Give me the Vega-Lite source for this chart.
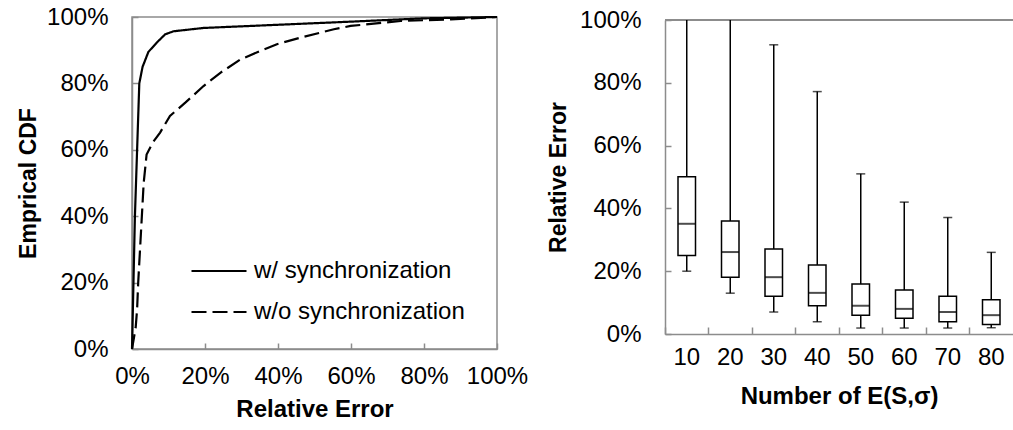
{
  "$schema": "https://vega.github.io/schema/vega-lite/v6.json",
  "padding": {"left": 16, "top": 4, "right": 0, "bottom": 0},
  "background": "white",
  "bounds": "flush",
  "spacing": 168,
  "config": {
    "font": "Liberation Sans",
    "view": {"stroke": "#8c8c8c", "strokeWidth": 1.5},
    "axis": {
      "labelFont": "Liberation Sans", "labelFontSize": 24, "labelColor": "#000", "labelOverlap": false, "labelFlush": false,
      "titleFont": "Liberation Sans", "titleFontSize": 24, "titleFontWeight": "bold", "titleColor": "#000",
      "domainColor": "#8c8c8c", "domainWidth": 1.5, "tickColor": "#8c8c8c", "tickWidth": 1.5, "grid": false
    }
  },
  "hconcat": [
    {
      "width": 365,
      "height": 332,
      "data": {"values": [
        {"s": "w/ synchronization", "x": 0, "y": 0},
        {"s": "w/ synchronization", "x": 0.004, "y": 0.2},
        {"s": "w/ synchronization", "x": 0.008, "y": 0.4},
        {"s": "w/ synchronization", "x": 0.014, "y": 0.6},
        {"s": "w/ synchronization", "x": 0.02, "y": 0.8},
        {"s": "w/ synchronization", "x": 0.029, "y": 0.85},
        {"s": "w/ synchronization", "x": 0.045, "y": 0.895},
        {"s": "w/ synchronization", "x": 0.068, "y": 0.923},
        {"s": "w/ synchronization", "x": 0.091, "y": 0.948},
        {"s": "w/ synchronization", "x": 0.114, "y": 0.957},
        {"s": "w/ synchronization", "x": 0.196, "y": 0.967},
        {"s": "w/ synchronization", "x": 0.6, "y": 0.986},
        {"s": "w/ synchronization", "x": 0.8, "y": 0.996},
        {"s": "w/ synchronization", "x": 1, "y": 1},
        {"s": "w/o synchronization", "x": 0, "y": 0},
        {"s": "w/o synchronization", "x": 0.01, "y": 0.064},
        {"s": "w/o synchronization", "x": 0.014, "y": 0.12},
        {"s": "w/o synchronization", "x": 0.017, "y": 0.2},
        {"s": "w/o synchronization", "x": 0.022, "y": 0.3},
        {"s": "w/o synchronization", "x": 0.027, "y": 0.4},
        {"s": "w/o synchronization", "x": 0.032, "y": 0.5},
        {"s": "w/o synchronization", "x": 0.04, "y": 0.586},
        {"s": "w/o synchronization", "x": 0.057, "y": 0.622},
        {"s": "w/o synchronization", "x": 0.077, "y": 0.652},
        {"s": "w/o synchronization", "x": 0.104, "y": 0.702},
        {"s": "w/o synchronization", "x": 0.146, "y": 0.742},
        {"s": "w/o synchronization", "x": 0.196, "y": 0.792},
        {"s": "w/o synchronization", "x": 0.242, "y": 0.832},
        {"s": "w/o synchronization", "x": 0.297, "y": 0.872},
        {"s": "w/o synchronization", "x": 0.352, "y": 0.898},
        {"s": "w/o synchronization", "x": 0.397, "y": 0.918},
        {"s": "w/o synchronization", "x": 0.462, "y": 0.938},
        {"s": "w/o synchronization", "x": 0.553, "y": 0.963},
        {"s": "w/o synchronization", "x": 0.599, "y": 0.973},
        {"s": "w/o synchronization", "x": 0.736, "y": 0.988},
        {"s": "w/o synchronization", "x": 0.874, "y": 0.993},
        {"s": "w/o synchronization", "x": 1, "y": 1}
      ]},
      "mark": {"type": "line", "color": "black", "strokeWidth": 2.2},
      "encoding": {
        "x": {"field": "x", "type": "quantitative", "scale": {"domain": [0, 1], "nice": false},
          "axis": {"title": "Relative Error", "format": ".0%", "values": [0, 0.2, 0.4, 0.6, 0.8, 1], "tickSize": -6, "labelPadding": 21, "titlePadding": 9}},
        "y": {"field": "y", "type": "quantitative", "scale": {"domain": [0, 1], "nice": false},
          "axis": {"title": "Emprical CDF", "titleFontSize": 23, "format": ".0%", "values": [0, 0.2, 0.4, 0.6, 0.8, 1], "tickSize": -6, "labelPadding": 30, "titlePadding": 6}},
        "strokeDash": {"field": "s", "type": "nominal",
          "scale": {"domain": ["w/ synchronization", "w/o synchronization"], "range": [[1, 0], [15, 6]]},
          "legend": {"orient": "none", "legendX": 58, "legendY": 225, "title": null, "symbolType": "stroke", "symbolSize": 3025,
            "symbolStrokeWidth": 2.2, "symbolStrokeColor": "black", "labelFontSize": 24, "labelFont": "Liberation Sans", "labelColor": "black",
            "labelOffset": 6, "rowPadding": -17, "padding": 0, "labelLimit": 400}}
      }
    },
    {
      "width": 348,
      "height": 317,
      "view": {"stroke": null},
      "data": {"values": [
        {"n": "10", "min": 0.2, "q1": 0.25, "med": 0.351, "q3": 0.501, "max": 1.0},
        {"n": "20", "min": 0.13, "q1": 0.181, "med": 0.261, "q3": 0.36, "max": 1.0},
        {"n": "30", "min": 0.07, "q1": 0.12, "med": 0.181, "q3": 0.271, "max": 0.921, "cap": 0.921},
        {"n": "40", "min": 0.039, "q1": 0.09, "med": 0.131, "q3": 0.22, "max": 0.772, "cap": 0.772},
        {"n": "50", "min": 0.019, "q1": 0.06, "med": 0.09, "q3": 0.159, "max": 0.51, "cap": 0.51},
        {"n": "60", "min": 0.019, "q1": 0.05, "med": 0.08, "q3": 0.14, "max": 0.42, "cap": 0.42},
        {"n": "70", "min": 0.019, "q1": 0.039, "med": 0.07, "q3": 0.12, "max": 0.371, "cap": 0.371},
        {"n": "80", "min": 0.02, "q1": 0.03, "med": 0.06, "q3": 0.109, "max": 0.26, "cap": 0.26}
      ]},
      "encoding": {
        "x": {"field": "n", "type": "ordinal", "sort": null,
          "scale": {"paddingInner": 0, "paddingOuter": 0},
          "axis": {"title": "Number of E(S,σ)", "labelAngle": 0, "bandPosition": 0, "tickSize": -7, "labelPadding": 18, "titlePadding": 15}}
      },
      "layer": [
        {
          "mark": {"type": "rule", "color": "#8c8c8c", "strokeWidth": 1.5},
          "encoding": {"y": {"datum": 1, "type": "quantitative"}, "x": null}
        },
        {
          "mark": {"type": "rule", "color": "black", "strokeWidth": 1.5},
          "encoding": {
            "y": {"field": "min", "type": "quantitative", "scale": {"domain": [0, 1], "nice": false, "range": [317, 3]},
              "axis": {"title": "Relative Error", "titleFontSize": 23, "format": ".0%", "values": [0, 0.2, 0.4, 0.6, 0.8, 1], "tickSize": -6, "labelPadding": 30, "titlePadding": 9}},
            "y2": {"field": "max"}
          }
        },
        {
          "mark": {"type": "bar", "fill": "white", "stroke": "black", "strokeWidth": 1.5, "size": 17.5},
          "encoding": {"y": {"field": "q1", "type": "quantitative"}, "y2": {"field": "q3"}}
        },
        {
          "mark": {"type": "tick", "color": "black", "thickness": 2, "size": 17.5},
          "encoding": {"y": {"field": "med", "type": "quantitative"}}
        },
        {
          "mark": {"type": "tick", "color": "black", "thickness": 1.5, "size": 9},
          "encoding": {"y": {"field": "min", "type": "quantitative"}}
        },
        {
          "mark": {"type": "tick", "color": "black", "thickness": 1.5, "size": 9},
          "encoding": {"y": {"field": "cap", "type": "quantitative"}}
        }
      ]
    }
  ]
}
